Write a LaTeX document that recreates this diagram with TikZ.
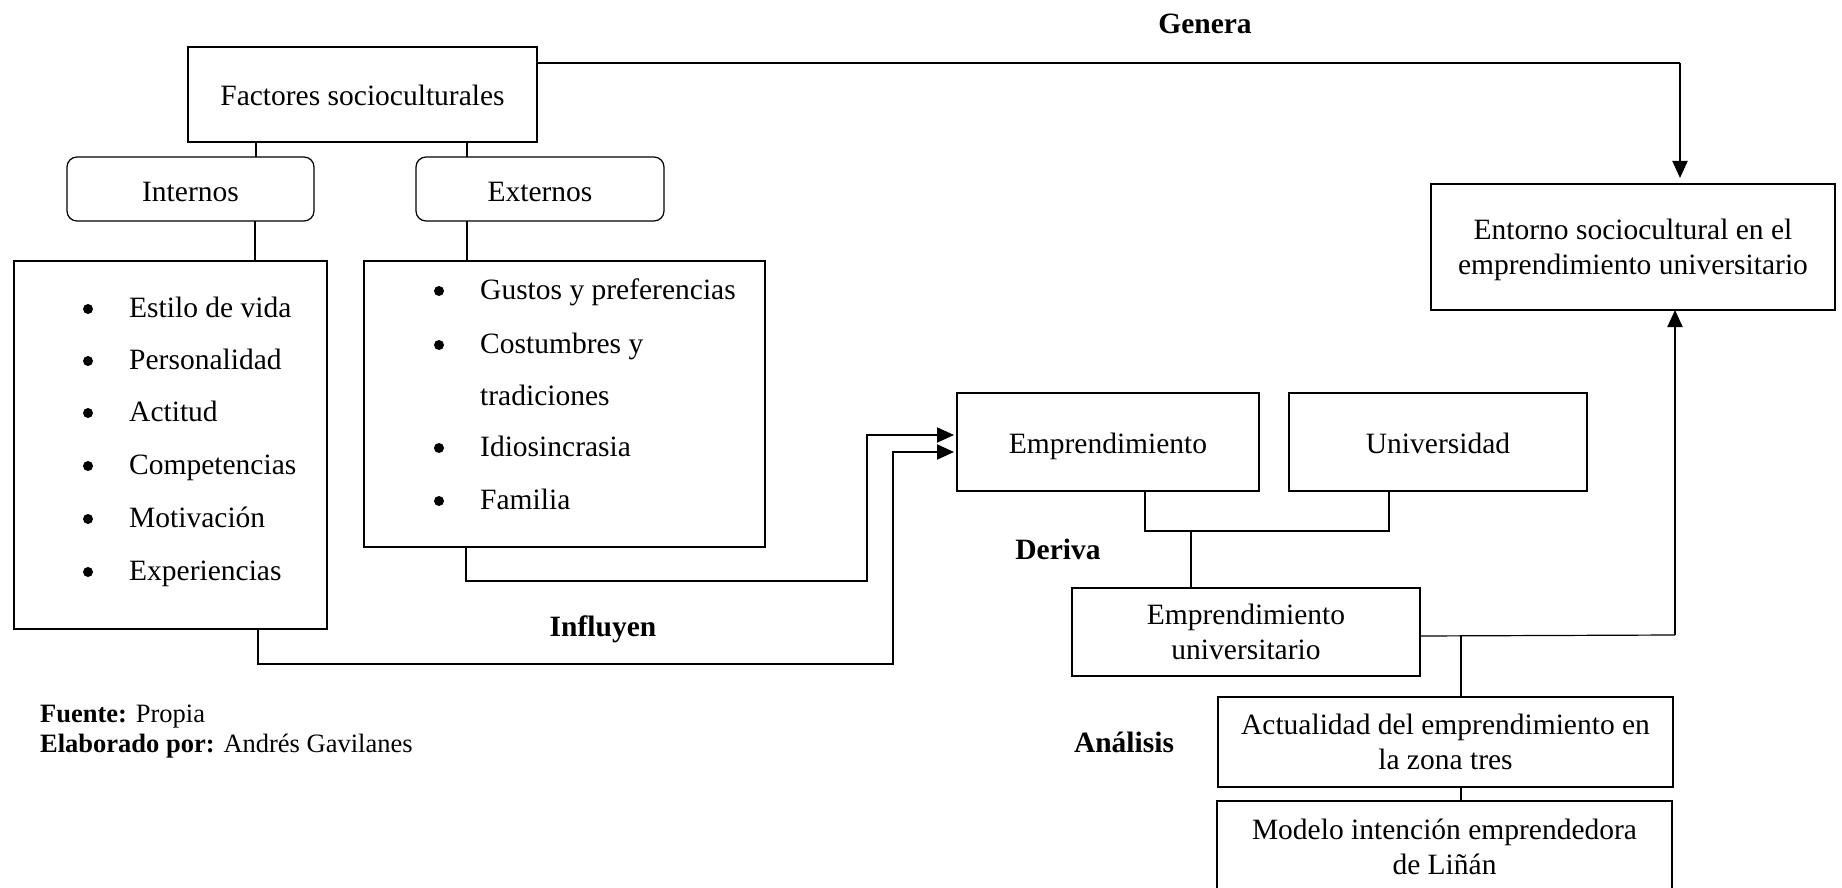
\documentclass[tikz,border=0pt]{standalone}
\usepackage{fontspec}
\setmainfont{Liberation Serif}
\usetikzlibrary{arrows.meta}
\newcommand\mainsz{\fontsize{29.5pt}{35.5pt}\selectfont}
\newcommand\smallsz{\fontsize{26.5pt}{30pt}\selectfont}
\begin{document}
\begin{tikzpicture}[x=1pt,y=-1pt,
 box/.style={draw, line width=1.2pt, inner sep=0pt, outer sep=0pt, anchor=north west, align=center, font=\mainsz},
 one/.style={text height=22pt, text depth=0pt},
 rbox/.style={box, rounded corners=10pt},
 item/.style={anchor=base west, inner sep=0pt, font=\mainsz},
 bul/.style={circle, fill, inner sep=0pt, minimum size=10pt},
 lbl/.style={anchor=base, inner sep=0pt, font=\mainsz\bfseries},
 foot/.style={anchor=base west, inner sep=0pt, font=\smallsz},
 conn/.style={line width=1.2pt},
 arr/.style={line width=2pt, -{Triangle[length=17pt,width=15pt]}},
]
\clip (0,0) rectangle (1842,888);
\fill[white] (0,0) rectangle (1842,888);

% boxes
\node[box, one, minimum width=349pt, minimum height=95pt] (fac) at (188,47) {Factores socioculturales};
\node[rbox, text height=24pt, text depth=0pt, minimum width=247pt, minimum height=64pt] (int) at (67,157) {Internos};
\node[rbox, text height=24pt, text depth=0pt, minimum width=248pt, minimum height=64pt] (ext) at (416,157) {Externos};
\node[box, minimum width=313pt, minimum height=368pt] (lstI) at (14,261) {};
\node[box, minimum width=401pt, minimum height=286pt] (lstE) at (364,261) {};
\node[box, text depth=0pt, minimum width=404pt, minimum height=126pt] (ent) at (1431,184) {Entorno sociocultural en el\\emprendimiento universitario};
\node[box, one, minimum width=302pt, minimum height=98pt] (emp) at (957,393) {Emprendimiento};
\node[box, one, minimum width=298pt, minimum height=98pt] (uni) at (1289,393) {Universidad};
\node[box, minimum width=348pt, minimum height=88pt] (eu) at (1072,588) {Emprendimiento\\universitario};
\node[box, minimum width=455pt, minimum height=90pt] (act) at (1218,697) {Actualidad del emprendimiento en\\la zona tres};
\node[box, minimum width=455pt, minimum height=92pt] (mod) at (1217,801) {Modelo intención emprendedora\\de Liñán};

% internal list
\node[bul] (b1) at (88,309) {}; \node[item] (i1) at (129,317) {Estilo de vida};
\node[bul] (b2) at (88,361) {}; \node[item] (i2) at (129,369) {Personalidad};
\node[bul] (b3) at (88,413) {}; \node[item] (i3) at (129,421) {Actitud};
\node[bul] (b4) at (88,466) {}; \node[item] (i4) at (129,474) {Competencias};
\node[bul] (b5) at (88,519) {}; \node[item] (i5) at (129,527) {Motivación};
\node[bul] (b6) at (88,572) {}; \node[item] (i6) at (129,580) {Experiencias};

% external list
\node[bul] (c1) at (439,291) {}; \node[item] (e1) at (480,299) {Gustos y preferencias};
\node[bul] (c2) at (439,345) {}; \node[item] (e2) at (480,353) {Costumbres y};
\node[item] (e2b) at (480,405) {tradiciones};
\node[bul] (c3) at (439,448) {}; \node[item] (e3) at (480,456) {Idiosincrasia};
\node[bul] (c4) at (439,501) {}; \node[item] (e4) at (480,509) {Familia};

% labels
\node[lbl] (gen) at (1205,34) {Genera};
\node[lbl] (inf) at (603,636) {Influyen};
\node[lbl] (der) at (1058,559) {Deriva};
\node[lbl] (ana) at (1124,752) {Análisis};
\node[foot] (fte) at (40,722) {\textbf{Fuente:} Propia};
\node[foot] (elab) at (40,752) {\textbf{Elaborado por:} Andrés Gavilanes};

% connectors
\draw[conn] ([xshift=68pt]fac.south west) -- ([xshift=68pt]fac.south west |- int.north);
\draw[conn] ([xshift=279pt]fac.south west) -- ([xshift=279pt]fac.south west |- ext.north);
\draw[conn] ([xshift=188pt]int.south west) -- ([xshift=188pt]int.south west |- lstI.north);
\draw[conn] ([xshift=51pt]ext.south west) -- ([xshift=51pt]ext.south west |- lstE.north);

\draw[arr] ([xshift=102pt]lstE.south west) |- (867,581) -- (867,435) -- ([xshift=-3pt,yshift=7pt]emp.west);
\draw[arr] ([xshift=244pt]lstI.south west) |- (893,664) -- (893,452) -- ([xshift=-3pt,yshift=-10pt]emp.west);

\draw[conn] ([yshift=31.5pt]fac.east) -- (1680,63);
\draw[arr] (1680,63) -- ([xshift=249pt,yshift=6pt]ent.north west);

\coordinate (br) at (1191,531);
\draw[conn] ([xshift=188pt]emp.south west) |- (br) -| ([xshift=100pt]uni.south west);
\draw[conn] (br) -- ([xshift=119pt]eu.north west);

\draw[conn] ([yshift=-4pt]eu.east) -- (1675,635);
\draw[arr] (1675,635) -- ([xshift=244pt]ent.south west);

\coordinate (an) at (1461,636);
\draw[conn] (an) -- ([xshift=243pt]act.north west);
\draw[conn] ([xshift=243pt]act.south west) -- ([xshift=244pt]mod.north west);
\end{tikzpicture}
\end{document}
